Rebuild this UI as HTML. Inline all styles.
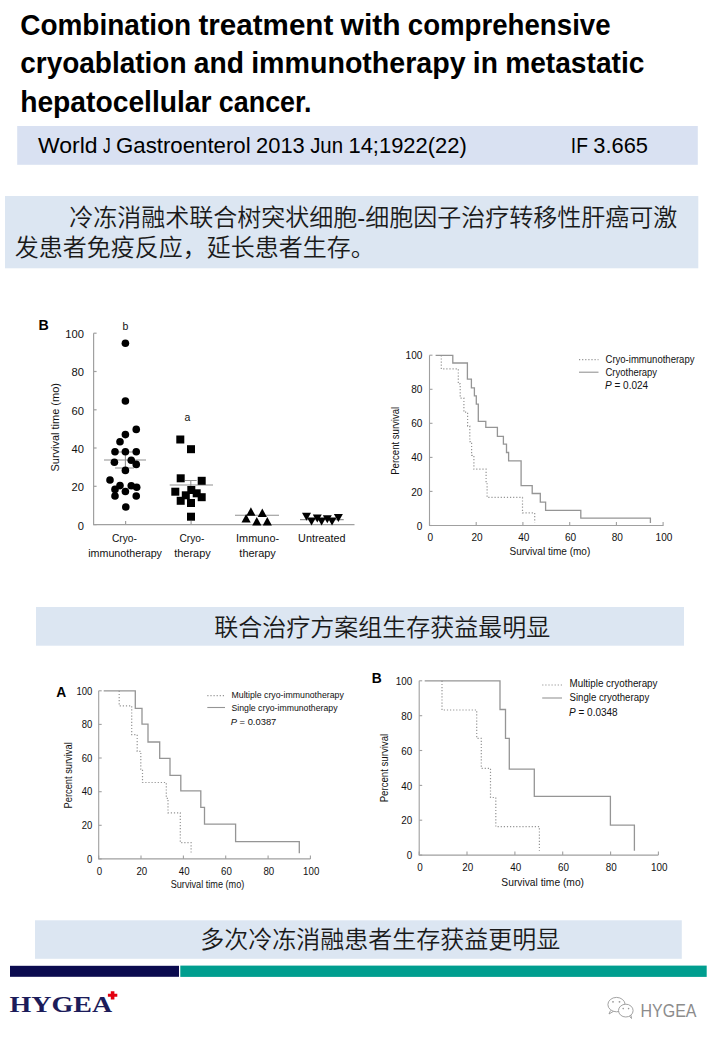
<!DOCTYPE html>
<html><head><meta charset="utf-8"><title>Cryoablation and immunotherapy</title>
<style>
html,body{margin:0;padding:0;background:#fff;}
body{width:720px;height:1040px;overflow:hidden;}
svg{display:block;font-family:'Liberation Sans', Arial, sans-serif;}
</style></head><body>
<svg width="720" height="1040" viewBox="0 0 720 1040">
<text x="20.2" y="35.2" font-size="29" font-weight="700" textLength="170.98" lengthAdjust="spacingAndGlyphs" fill="#000">Combination</text>
<text x="198.42" y="35.2" font-size="29" font-weight="700" textLength="134.92" lengthAdjust="spacingAndGlyphs" fill="#000">treatment</text>
<text x="340.57" y="35.2" font-size="29" font-weight="700" textLength="59.97" lengthAdjust="spacingAndGlyphs" fill="#000">with</text>
<text x="407.78" y="35.2" font-size="29" font-weight="700" textLength="202.8" lengthAdjust="spacingAndGlyphs" fill="#000">comprehensive</text>
<text x="20.2" y="73.2" font-size="29" font-weight="700" textLength="166.36" lengthAdjust="spacingAndGlyphs" fill="#000">cryoablation</text>
<text x="193.79" y="73.2" font-size="29" font-weight="700" textLength="50.14" lengthAdjust="spacingAndGlyphs" fill="#000">and</text>
<text x="251.17" y="73.2" font-size="29" font-weight="700" textLength="214.47" lengthAdjust="spacingAndGlyphs" fill="#000">immunotherapy</text>
<text x="472.87" y="73.2" font-size="29" font-weight="700" textLength="25.03" lengthAdjust="spacingAndGlyphs" fill="#000">in</text>
<text x="505.14" y="73.2" font-size="29" font-weight="700" textLength="139.31" lengthAdjust="spacingAndGlyphs" fill="#000">metastatic</text>
<text x="20.2" y="112.4" font-size="29" font-weight="700" textLength="191.36" lengthAdjust="spacingAndGlyphs" fill="#000">hepatocellular</text>
<text x="218.79" y="112.4" font-size="29" font-weight="700" textLength="92.78" lengthAdjust="spacingAndGlyphs" fill="#000">cancer.</text>
<rect x="17.2" y="126" width="680.6" height="38.8" fill="#d9e1f2"/>
<text x="38.0" y="152.6" font-size="21.6" textLength="59.48" lengthAdjust="spacingAndGlyphs" fill="#000">World</text>
<text x="102.92" y="152.6" font-size="21.6" textLength="7.66" lengthAdjust="spacingAndGlyphs" fill="#000">J</text>
<text x="116.02" y="152.6" font-size="21.6" textLength="134.62" lengthAdjust="spacingAndGlyphs" fill="#000">Gastroenterol</text>
<text x="256.08" y="152.6" font-size="21.6" textLength="48.66" lengthAdjust="spacingAndGlyphs" fill="#000">2013</text>
<text x="310.17" y="152.6" font-size="21.6" textLength="32.88" lengthAdjust="spacingAndGlyphs" fill="#000">Jun</text>
<text x="348.48" y="152.6" font-size="21.6" textLength="118.3" lengthAdjust="spacingAndGlyphs" fill="#000">14;1922(22)</text>
<text x="570.8" y="152.6" font-size="21.6" textLength="17.08" lengthAdjust="spacingAndGlyphs" fill="#000">IF</text>
<text x="593.32" y="152.6" font-size="21.6" textLength="54.72" lengthAdjust="spacingAndGlyphs" fill="#000">3.665</text>
<rect x="5" y="196" width="693.3" height="72.3" fill="#dce6f2"/>
<g font-family="'Liberation Sans', 'Noto Sans CJK SC DemiLight', 'Noto Sans CJK SC', sans-serif" font-weight="300">
<text x="69.3" y="225.7" font-size="24" fill="#1a1a1a">冷冻消融术联合树突状细胞-细胞因子治疗转移性肝癌可激</text>
<text x="14.8" y="256.3" font-size="24" fill="#1a1a1a">发患者免疫反应，延长患者生存。</text>
</g>
<g stroke="#a0a0a0" stroke-width="1.2" fill="none">
<path d="M93.6 333.2 V524.6 H354.5"/>
<path d="M93.6 524.6 H96.6"/>
<path d="M93.6 486.3 H96.6"/>
<path d="M93.6 448.0 H96.6"/>
<path d="M93.6 409.8 H96.6"/>
<path d="M93.6 371.5 H96.6"/>
<path d="M93.6 333.2 H96.6"/>
<path d="M125.6 524.6 V521"/>
<path d="M191.1 524.6 V521"/>
<path d="M257.6 524.6 V521"/>
<path d="M321.8 524.6 V521"/>
</g>
<text x="83.9" y="529.6" font-size="11.2" text-anchor="end" fill="#111">0</text>
<text x="83.9" y="491.32000000000005" font-size="11.2" text-anchor="end" fill="#111">20</text>
<text x="83.9" y="453.04" font-size="11.2" text-anchor="end" fill="#111">40</text>
<text x="83.9" y="414.76000000000005" font-size="11.2" text-anchor="end" fill="#111">60</text>
<text x="83.9" y="376.48" font-size="11.2" text-anchor="end" fill="#111">80</text>
<text x="83.9" y="338.20000000000005" font-size="11.2" text-anchor="end" fill="#111">100</text>
<text transform="translate(59.4 427.3) rotate(-90)" font-size="11.8" text-anchor="middle" fill="#111" textLength="88.5" lengthAdjust="spacingAndGlyphs">Survival time (mo)</text>
<text x="38.6" y="330.3" font-size="14.2" font-weight="700" fill="#000">B</text>
<text x="125.4" y="329.8" font-size="10.5" text-anchor="middle" fill="#111">b</text>
<text x="187.5" y="420.5" font-size="10.5" text-anchor="middle" fill="#111">a</text>
<text x="124.4" y="541.8" font-size="11" text-anchor="middle" textLength="25" lengthAdjust="spacingAndGlyphs" fill="#111">Cryo-</text>
<text x="125.1" y="556.6" font-size="11" text-anchor="middle" textLength="73.8" lengthAdjust="spacingAndGlyphs" fill="#111">immunotherapy</text>
<text x="191.9" y="541.8" font-size="11" text-anchor="middle" textLength="25" lengthAdjust="spacingAndGlyphs" fill="#111">Cryo-</text>
<text x="192.5" y="556.6" font-size="11" text-anchor="middle" textLength="36.5" lengthAdjust="spacingAndGlyphs" fill="#111">therapy</text>
<text x="257.6" y="541.8" font-size="11" text-anchor="middle" textLength="43" lengthAdjust="spacingAndGlyphs" fill="#111">Immuno-</text>
<text x="257.6" y="556.6" font-size="11" text-anchor="middle" textLength="36.5" lengthAdjust="spacingAndGlyphs" fill="#111">therapy</text>
<text x="321.8" y="541.8" font-size="11" text-anchor="middle" textLength="47.4" lengthAdjust="spacingAndGlyphs" fill="#111">Untreated</text>
<g stroke="#909090" stroke-width="1.1" fill="none">
<path d="M104 460 H146 M125.4 452 V468 M115 468 H134 M117 452 H134"/>
<path d="M169.7 485 H213 M190.8 480.5 V489 M185 480.5 H196.7"/>
<path d="M235 515.3 H279"/>
<path d="M300 519.6 H343.7"/>
</g>
<g fill="#000">
<circle cx="125.4" cy="343.3" r="3.8"/>
<circle cx="125.4" cy="401" r="3.8"/>
<circle cx="136.25" cy="429.4" r="3.8"/>
<circle cx="125.4" cy="434.6" r="3.8"/>
<circle cx="120" cy="441.7" r="3.8"/>
<circle cx="115" cy="451.7" r="3.8"/>
<circle cx="125.4" cy="451.7" r="3.8"/>
<circle cx="136.25" cy="451.7" r="3.8"/>
<circle cx="114.4" cy="462.3" r="3.8"/>
<circle cx="131.25" cy="460.2" r="3.8"/>
<circle cx="136.25" cy="464.4" r="3.8"/>
<circle cx="125.4" cy="470.4" r="3.8"/>
<circle cx="110" cy="480" r="3.8"/>
<circle cx="120" cy="485.6" r="3.8"/>
<circle cx="115" cy="489.4" r="3.8"/>
<circle cx="131.25" cy="485.8" r="3.8"/>
<circle cx="136.7" cy="487.3" r="3.8"/>
<circle cx="125.4" cy="491.5" r="3.8"/>
<circle cx="115" cy="496" r="3.8"/>
<circle cx="136.25" cy="496" r="3.8"/>
<circle cx="125.8" cy="507" r="3.8"/>
<rect x="176.3" y="435.5" width="8" height="8"/>
<rect x="187.0" y="445.2" width="8" height="8"/>
<rect x="176.7" y="474.3" width="8" height="8"/>
<rect x="197.7" y="476.8" width="8" height="8"/>
<rect x="171.3" y="487.7" width="8" height="8"/>
<rect x="187.3" y="486.0" width="8" height="8"/>
<rect x="192.7" y="489.3" width="8" height="8"/>
<rect x="181.8" y="491.3" width="8" height="8"/>
<rect x="197.7" y="493.2" width="8" height="8"/>
<rect x="176.7" y="496.8" width="8" height="8"/>
<rect x="187.0" y="499.0" width="8" height="8"/>
<rect x="187.0" y="512.7" width="8" height="8"/>
<path d="M250.9 507.3 L255.5 515.7 L246.3 515.7Z"/>
<path d="M262.3 508.5 L266.9 516.9 L257.7 516.9Z"/>
<path d="M246.1 514.1 L250.7 522.5 L241.5 522.5Z"/>
<path d="M256.8 517.0 L261.4 525.4 L252.2 525.4Z"/>
<path d="M267.3 517.0 L271.9 525.4 L262.7 525.4Z"/>
<path d="M302.0 512.8 L311.0 512.8 L306.5 520.8Z"/>
<path d="M312.8 514.4 L321.8 514.4 L317.3 522.4Z"/>
<path d="M307.0 517.6 L316.0 517.6 L311.5 525.6Z"/>
<path d="M317.1 517.6 L326.1 517.6 L321.6 525.6Z"/>
<path d="M322.8 515.2 L331.8 515.2 L327.3 523.2Z"/>
<path d="M327.5 517.6 L336.5 517.6 L332 525.6Z"/>
<path d="M333.9 514.0 L342.9 514.0 L338.4 522.0Z"/>
</g>
<g stroke="#a0a0a0" stroke-width="1.1" fill="none">
<path d="M429.5 355.2 V525.5 H663.5"/>
<path d="M429.5 525.5 H432.5"/>
<path d="M429.5 491.4 H432.5"/>
<path d="M429.5 457.4 H432.5"/>
<path d="M429.5 423.3 H432.5"/>
<path d="M429.5 389.3 H432.5"/>
<path d="M429.5 355.2 H432.5"/>
<path d="M429.5 525.5 V522.0"/>
<path d="M476.2 525.5 V522.0"/>
<path d="M522.9 525.5 V522.0"/>
<path d="M569.7 525.5 V522.0"/>
<path d="M616.4 525.5 V522.0"/>
<path d="M663.1 525.5 V522.0"/>
</g>
<path d="M435.6 355.3 H452.8 V363 H467.4 V379.2 H471.4 V387.8 H474.4 V395.9 H476.3 V404.2 H478.3 V421.3 H485.8 V427.4 H497.4 V436.4 H503.4 V444.2 H506.5 V452.5 H508.6 V460.8 H521.1 V485.6 H532.2 V493.5 H540.3 V502.2 H545.6 V510.4 H580.8 V518.2 H650.4 V522.9" stroke="#959595" stroke-width="1.3" fill="none"/>
<path d="M441.3 355.3 V368.9 H458.3 V383.9 H460.2 V398.1 H463.9 V412.2 H467.6 V426.1 H469.8 V441.7 H471.6 V455.3 H473.9 V469.2 H486.1 V483.75 H487.1 V497.4 H522.5 V512.9 H534.7 V522.6" stroke="#959595" stroke-width="1.2" stroke-dasharray="1.2 1.9" fill="none"/>
<text x="422.4" y="529.6" font-size="10.4" text-anchor="end" textLength="5.6" lengthAdjust="spacingAndGlyphs" fill="#111">0</text>
<text x="422.4" y="495.54" font-size="10.4" text-anchor="end" textLength="11.2" lengthAdjust="spacingAndGlyphs" fill="#111">20</text>
<text x="422.4" y="461.48" font-size="10.4" text-anchor="end" textLength="11.2" lengthAdjust="spacingAndGlyphs" fill="#111">40</text>
<text x="422.4" y="427.42" font-size="10.4" text-anchor="end" textLength="11.2" lengthAdjust="spacingAndGlyphs" fill="#111">60</text>
<text x="422.4" y="393.36" font-size="10.4" text-anchor="end" textLength="11.2" lengthAdjust="spacingAndGlyphs" fill="#111">80</text>
<text x="422.4" y="359.3" font-size="10.4" text-anchor="end" textLength="16.8" lengthAdjust="spacingAndGlyphs" fill="#111">100</text>
<text x="430.4" y="540.9" font-size="10.4" text-anchor="middle" textLength="5.6" lengthAdjust="spacingAndGlyphs" fill="#111">0</text>
<text x="477.12" y="540.9" font-size="10.4" text-anchor="middle" textLength="11.2" lengthAdjust="spacingAndGlyphs" fill="#111">20</text>
<text x="523.84" y="540.9" font-size="10.4" text-anchor="middle" textLength="11.2" lengthAdjust="spacingAndGlyphs" fill="#111">40</text>
<text x="570.56" y="540.9" font-size="10.4" text-anchor="middle" textLength="11.2" lengthAdjust="spacingAndGlyphs" fill="#111">60</text>
<text x="617.28" y="540.9" font-size="10.4" text-anchor="middle" textLength="11.2" lengthAdjust="spacingAndGlyphs" fill="#111">80</text>
<text x="664.0" y="540.9" font-size="10.4" text-anchor="middle" textLength="16.8" lengthAdjust="spacingAndGlyphs" fill="#111">100</text>
<text transform="translate(399.2 440.8) rotate(-90)" font-size="10.1" text-anchor="middle" fill="#111" textLength="68" lengthAdjust="spacingAndGlyphs">Percent survival</text>
<text x="549.85" y="554.6" font-size="10.2" text-anchor="middle" textLength="80.8" lengthAdjust="spacingAndGlyphs" fill="#111">Survival time (mo)</text>
<path d="M579 359.6 H598.5" stroke="#959595" stroke-width="1.1" stroke-dasharray="1.2 1.9"/>
<path d="M579 372.2 H598.5" stroke="#959595" stroke-width="1.1"/>
<text x="605.5" y="362.6" font-size="10" textLength="89" lengthAdjust="spacingAndGlyphs" fill="#111">Cryo-immunotherapy</text>
<text x="605.5" y="376.2" font-size="10" textLength="51.6" lengthAdjust="spacingAndGlyphs" fill="#111">Cryotherapy</text>
<text x="605" y="389.4" font-size="10" fill="#111"><tspan font-style="italic">P</tspan> = 0.024</text>
<g stroke="#a0a0a0" stroke-width="1.1" fill="none">
<path d="M98.7 690.8 V858.9 H310.4"/>
<path d="M98.7 858.9 H101.7"/>
<path d="M98.7 825.3 H101.7"/>
<path d="M98.7 791.7 H101.7"/>
<path d="M98.7 758.0 H101.7"/>
<path d="M98.7 724.4 H101.7"/>
<path d="M98.7 690.8 H101.7"/>
<path d="M98.7 858.9 V855.4"/>
<path d="M141.0 858.9 V855.4"/>
<path d="M183.4 858.9 V855.4"/>
<path d="M225.7 858.9 V855.4"/>
<path d="M268.1 858.9 V855.4"/>
<path d="M310.4 858.9 V855.4"/>
</g>
<path d="M103.7 690.8 H135.3 V708.3 H142 V724.2 H148 V742 H159.7 V758.3 H170 V775.3 H180.8 V790.8 H200.8 V807.3 H204.5 V824.2 H235.6 V841.6 H299.3 V853.3" stroke="#959595" stroke-width="1.3" fill="none"/>
<path d="M119.2 690.8 V705.8 H131.7 V734.7 H137.2 V751.3 H140.8 V769.2 H142.5 V782.5 H166.3 V798.3 H168 V812.8 H180.3 V842.7 H191.1 V852.9" stroke="#959595" stroke-width="1.2" stroke-dasharray="1.2 1.9" fill="none"/>
<text x="92.3" y="862.6" font-size="10.4" text-anchor="end" textLength="5.3" lengthAdjust="spacingAndGlyphs" fill="#111">0</text>
<text x="92.3" y="828.98" font-size="10.4" text-anchor="end" textLength="10.6" lengthAdjust="spacingAndGlyphs" fill="#111">20</text>
<text x="92.3" y="795.36" font-size="10.4" text-anchor="end" textLength="10.6" lengthAdjust="spacingAndGlyphs" fill="#111">40</text>
<text x="92.3" y="761.74" font-size="10.4" text-anchor="end" textLength="10.6" lengthAdjust="spacingAndGlyphs" fill="#111">60</text>
<text x="92.3" y="728.12" font-size="10.4" text-anchor="end" textLength="10.6" lengthAdjust="spacingAndGlyphs" fill="#111">80</text>
<text x="92.3" y="694.5" font-size="10.4" text-anchor="end" textLength="15.9" lengthAdjust="spacingAndGlyphs" fill="#111">100</text>
<text x="99.5" y="875.0" font-size="10.2" text-anchor="middle" textLength="5.4" lengthAdjust="spacingAndGlyphs" fill="#111">0</text>
<text x="141.84" y="875.0" font-size="10.2" text-anchor="middle" textLength="10.8" lengthAdjust="spacingAndGlyphs" fill="#111">20</text>
<text x="184.18" y="875.0" font-size="10.2" text-anchor="middle" textLength="10.8" lengthAdjust="spacingAndGlyphs" fill="#111">40</text>
<text x="226.52" y="875.0" font-size="10.2" text-anchor="middle" textLength="10.8" lengthAdjust="spacingAndGlyphs" fill="#111">60</text>
<text x="268.86" y="875.0" font-size="10.2" text-anchor="middle" textLength="10.8" lengthAdjust="spacingAndGlyphs" fill="#111">80</text>
<text x="311.2" y="875.0" font-size="10.2" text-anchor="middle" textLength="16.2" lengthAdjust="spacingAndGlyphs" fill="#111">100</text>
<text transform="translate(71.8 775.4) rotate(-90)" font-size="10.3" text-anchor="middle" fill="#111" textLength="66.2" lengthAdjust="spacingAndGlyphs">Percent survival</text>
<text x="207.5" y="887.75" font-size="10.5" text-anchor="middle" textLength="73.6" lengthAdjust="spacingAndGlyphs" fill="#111">Survival time (mo)</text>
<text x="56.2" y="696.8" font-size="13.8" font-weight="700" fill="#000">A</text>
<path d="M207.3 695.6 H225" stroke="#959595" stroke-width="1.1" stroke-dasharray="1.2 1.9"/>
<path d="M207.3 707.5 H225" stroke="#959595" stroke-width="1.1"/>
<text x="231.5" y="698.0" font-size="9.4" textLength="112.3" lengthAdjust="spacingAndGlyphs" fill="#111">Multiple cryo-immunotherapy</text>
<text x="231.5" y="711.1" font-size="9.4" textLength="106" lengthAdjust="spacingAndGlyphs" fill="#111">Single cryo-immunotherapy</text>
<text x="230.7" y="725.1" font-size="9.4" fill="#111"><tspan font-style="italic">P</tspan> = 0.0387</text>
<g stroke="#a0a0a0" stroke-width="1.1" fill="none">
<path d="M419.2 680.8 V855.1 H658.4"/>
<path d="M419.2 855.1 H422.2"/>
<path d="M419.2 820.2 H422.2"/>
<path d="M419.2 785.4 H422.2"/>
<path d="M419.2 750.5 H422.2"/>
<path d="M419.2 715.7 H422.2"/>
<path d="M419.2 680.8 H422.2"/>
<path d="M419.2 855.1 V851.6"/>
<path d="M467.0 855.1 V851.6"/>
<path d="M514.9 855.1 V851.6"/>
<path d="M562.7 855.1 V851.6"/>
<path d="M610.6 855.1 V851.6"/>
<path d="M658.4 855.1 V851.6"/>
</g>
<path d="M424.7 680.8 H500 V709.5 H505.5 V738.3 H509.3 V769.2 H534.3 V796.3 H610.4 V825.1 H634.4 V850.7" stroke="#959595" stroke-width="1.3" fill="none"/>
<path d="M442 680.8 V710 H476.7 V738.3 H481.3 V768.3 H490.5 V797.5 H495.8 V826.7 H539.4 V850.7" stroke="#959595" stroke-width="1.2" stroke-dasharray="1.2 1.9" fill="none"/>
<text x="412.2" y="859.3" font-size="10.2" text-anchor="end" textLength="5.5" lengthAdjust="spacingAndGlyphs" fill="#111">0</text>
<text x="412.2" y="824.44" font-size="10.2" text-anchor="end" textLength="11.0" lengthAdjust="spacingAndGlyphs" fill="#111">20</text>
<text x="412.2" y="789.58" font-size="10.2" text-anchor="end" textLength="11.0" lengthAdjust="spacingAndGlyphs" fill="#111">40</text>
<text x="412.2" y="754.72" font-size="10.2" text-anchor="end" textLength="11.0" lengthAdjust="spacingAndGlyphs" fill="#111">60</text>
<text x="412.2" y="719.86" font-size="10.2" text-anchor="end" textLength="11.0" lengthAdjust="spacingAndGlyphs" fill="#111">80</text>
<text x="412.2" y="685.0" font-size="10.2" text-anchor="end" textLength="16.5" lengthAdjust="spacingAndGlyphs" fill="#111">100</text>
<text x="420.0" y="870.7" font-size="10.2" text-anchor="middle" textLength="5.5" lengthAdjust="spacingAndGlyphs" fill="#111">0</text>
<text x="467.84" y="870.7" font-size="10.2" text-anchor="middle" textLength="11.0" lengthAdjust="spacingAndGlyphs" fill="#111">20</text>
<text x="515.68" y="870.7" font-size="10.2" text-anchor="middle" textLength="11.0" lengthAdjust="spacingAndGlyphs" fill="#111">40</text>
<text x="563.52" y="870.7" font-size="10.2" text-anchor="middle" textLength="11.0" lengthAdjust="spacingAndGlyphs" fill="#111">60</text>
<text x="611.36" y="870.7" font-size="10.2" text-anchor="middle" textLength="11.0" lengthAdjust="spacingAndGlyphs" fill="#111">80</text>
<text x="659.2" y="870.7" font-size="10.2" text-anchor="middle" textLength="16.5" lengthAdjust="spacingAndGlyphs" fill="#111">100</text>
<text transform="translate(387.7 768.1) rotate(-90)" font-size="10.6" text-anchor="middle" fill="#111" textLength="68.5" lengthAdjust="spacingAndGlyphs">Percent survival</text>
<text x="542.7" y="885.6" font-size="10.6" text-anchor="middle" textLength="82.7" lengthAdjust="spacingAndGlyphs" fill="#111">Survival time (mo)</text>
<text x="371.8" y="683.2" font-size="13.8" font-weight="700" fill="#000">B</text>
<path d="M542.2 685 H562" stroke="#959595" stroke-width="1.1" stroke-dasharray="1.2 1.9"/>
<path d="M542.2 698 H562" stroke="#959595" stroke-width="1.1"/>
<text x="569.5" y="687.3" font-size="10" textLength="88" lengthAdjust="spacingAndGlyphs" fill="#111">Multiple cryotherapy</text>
<text x="569.5" y="701.4" font-size="10" textLength="79.7" lengthAdjust="spacingAndGlyphs" fill="#111">Single cryotherapy</text>
<text x="569" y="715.6" font-size="10" fill="#111"><tspan font-style="italic">P</tspan> = 0.0348</text>
<rect x="36" y="607" width="648" height="38.7" fill="#dce6f2"/>
<text x="214.2" y="636.2" font-size="24" fill="#1a1a1a" font-family="'Liberation Sans', 'Noto Sans CJK SC DemiLight', 'Noto Sans CJK SC', sans-serif" font-weight="300">联合治疗方案组生存获益最明显</text>
<rect x="35" y="920.3" width="646.8" height="38.5" fill="#dce6f2"/>
<text x="200.3" y="948.2" font-size="24" fill="#1a1a1a" font-family="'Liberation Sans', 'Noto Sans CJK SC DemiLight', 'Noto Sans CJK SC', sans-serif" font-weight="300">多次冷冻消融患者生存获益更明显</text>
<rect x="10" y="965.8" width="169" height="11" fill="#0b0b4f"/>
<rect x="180.3" y="965.6" width="526.4" height="11.3" fill="#009e8f"/>
<text x="9.4" y="1012.4" font-size="23.5" font-weight="700" fill="#1c1c5a" font-family="'Liberation Serif', serif" textLength="102.8" lengthAdjust="spacingAndGlyphs">HYGEA</text>
<path d="M110.8 991.2 h3.6 v2.6 h2.9 v3 h-2.9 v2.6 h-3.6 v-2.6 h-2.9 v-3 h2.9z" fill="#e3000f"/>
<g fill="none" stroke="#999" stroke-width="0.9">
<ellipse cx="616.5" cy="1004.6" rx="8.6" ry="7.2"/><path d="M610.5 1010.5 L609 1014 L613.5 1011.3"/>
<ellipse cx="625.8" cy="1010.6" rx="7.3" ry="6.4" fill="#fff"/><path d="M629.5 1016.2 L631.5 1018.5 L631 1015.2"/>
</g>
<g fill="#999"><circle cx="613" cy="1001.8" r="0.9"/><circle cx="619.5" cy="1001.8" r="0.9"/><circle cx="623.2" cy="1008.6" r="0.8"/><circle cx="628.6" cy="1008.6" r="0.8"/></g>
<text x="640.5" y="1016.8" font-size="17.5" fill="#8c8c8c" font-family="'Liberation Sans', Arial, sans-serif" textLength="56" lengthAdjust="spacingAndGlyphs">HYGEA</text>
</svg>
</body></html>
